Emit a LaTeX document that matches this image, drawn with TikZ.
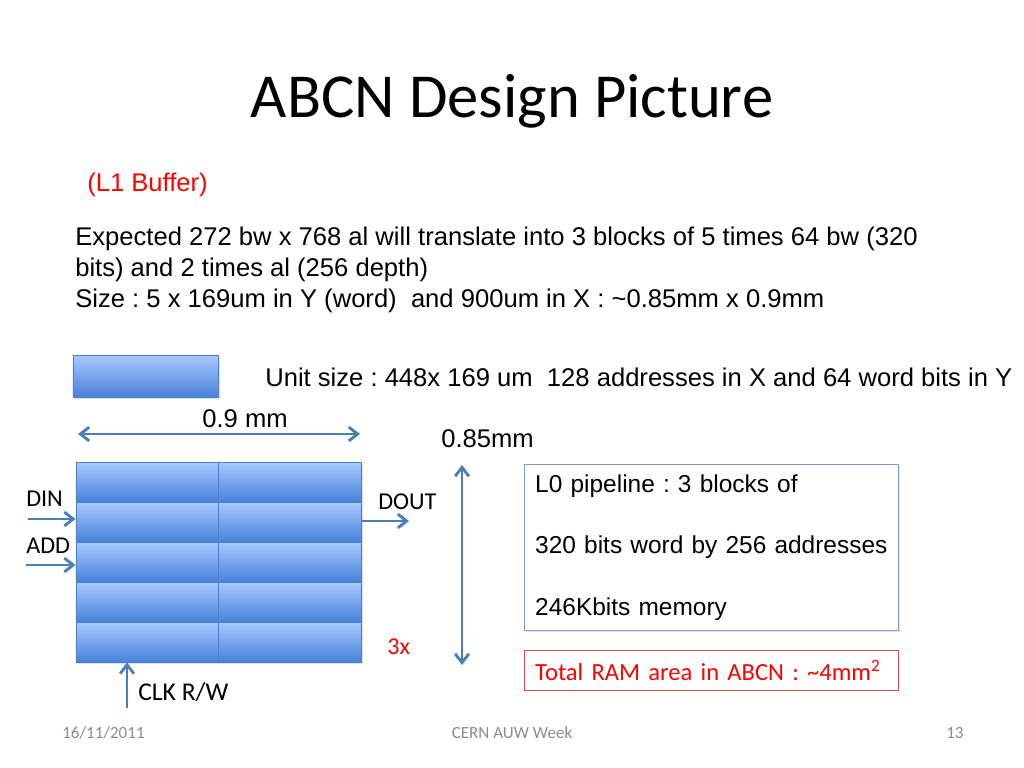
\documentclass[tikz,border=0pt]{standalone}
\usepackage{fontspec}
\setmainfont{Liberation Sans}
\newfontfamily\calibri{Carlito}
\usepackage{tikz}
\usetikzlibrary{arrows.meta,positioning,shadows}
\definecolor{cellTop}{HTML}{A8C8FF}
\definecolor{cellBot}{HTML}{4782DA}
\definecolor{cellLine}{HTML}{4F7FC4}
\definecolor{sigBlue}{HTML}{4A7EBB}
\definecolor{noteLine}{HTML}{7E9CC8}
\definecolor{alert}{HTML}{FF0000}
\definecolor{alertLine}{HTML}{E8484A}
\definecolor{footGray}{HTML}{8C8C8C}
\tikzset{
  cell/.style={draw=cellLine, line width=0.6pt, top color=cellTop, bottom color=cellBot,
               minimum width=100.2pt, minimum height=28.1pt, inner sep=0pt,
               drop shadow={opacity=0.25, shadow xshift=1.2pt, shadow yshift=-1.2pt}},
  sig/.style={-{Straight Barb[length=2.2mm,width=3.4mm]}, line width=2pt, draw=sigBlue},
  dim/.style={sig, {Straight Barb[length=2.2mm,width=3.4mm]}-{Straight Barb[length=2.2mm,width=3.4mm]}},
  body/.style={font=\fontsize{18}{21.6}\selectfont, inner sep=0pt, anchor=base west},
  sigtext/.style={font=\calibri\fontsize{17}{20}\selectfont, inner sep=0pt, anchor=base west},
  note/.style={draw=noteLine, line width=0.8pt, fill=white, anchor=north west, align=left,
               font=\fontsize{17.2}{21.6}\selectfont, inner xsep=7.5pt,
               drop shadow={opacity=0.2, shadow xshift=1pt, shadow yshift=-1pt}},
  total/.style={draw=alertLine, line width=0.8pt, anchor=north west, align=left, text=alert,
                font=\calibri\fontsize{17.3}{21.6}\selectfont, inner xsep=7.5pt},
  foottext/.style={font=\calibri\fontsize{12}{14}\selectfont, text=footGray, inner sep=0pt}
}
\frenchspacing
\hfuzz=50pt

\begin{document}
\begin{tikzpicture}[x=0.703125pt, y=-0.703125pt]
  \fill[white] (0,0) rectangle (1024,768);
  \useasboundingbox (0,0) rectangle (1024,768);
  \node[font=\calibri\fontsize{44}{52}\selectfont, anchor=base, inner sep=0pt] (title) at (512,118) {ABCN Design Picture};
  \node[body, text=alert] (l1buf) at (87,192) {(L1 Buffer)};
  \node[body, anchor=north west, align=left] (expect) at (75,227) {Expected 272 bw x 768 al will translate into 3 blocks of 5 times 64 bw (320\\bits) and 2 times al (256 depth)\\Size : 5 x 169um in Y (word)\ \ and 900um in X : \textasciitilde0.85mm x 0.9mm};
  \node[cell, minimum width=102pt, minimum height=29.5pt] (unit) at (145.5,376) {};
  \node[body] (unitsz) at (265,386) {Unit size : 448x 169 um\ \ 128 addresses in X and 64 word bits in Y};
  \foreach \r in {1,...,5}{
    \foreach \c/\xc in {1/147.25,2/289.75}{
      \node[cell] (c\r\c) at (\xc,{482+40*(\r-1)}) {};
    }
  }
  \node[body, anchor=base] (wlab) at (245,427) {0.9 mm};
  \coordinate (wl) at (78,434);
  \coordinate (wr) at (360,434);
  \draw[dim] (wl) -- (wr);
  \node[body] (hlab) at (441,447) {0.85mm};
  \coordinate (ht) at (462,465);
  \coordinate (hb) at (462,665);
  \draw[dim] (ht) -- (hb);
  \node[sigtext] (din) at (26,506) {DIN};
  \coordinate (dinS) at (28,519);
  \draw[sig] (dinS) -- (dinS -| c21.west);
  \node[sigtext] (add) at (26,553) {ADD};
  \coordinate (addS) at (26,565);
  \draw[sig] (addS) -- (addS -| c31.west);
  \node[sigtext] (dout) at (378,509) {DOUT};
  \coordinate (doutE) at (409,521);
  \draw[sig] (doutE -| c22.east) -- (doutE);
  \coordinate (clkS) at (127,708);
  \draw[sig] (clkS) -- (clkS |- c51.south);
  \node[sigtext, font=\calibri\fontsize{18}{21}\selectfont] (clk) at (138,700) {CLK R/W};
  \node[sigtext, text=alert] (times) at (387,654) {3x};
  \node[note, text width=248pt, minimum height=116.7pt] (l0) at (524,464) {\mbox{L0 pipeline : 3 blocks of}\\[21.6pt]\mbox{320 bits word by 256 addresses}\\[21.6pt]\mbox{246Kbits memory}};
  \node[total, text width=248pt, minimum height=28.1pt] (ram) at (524,650) {\mbox{Total RAM area in ABCN : \textasciitilde4mm\textsuperscript{2}}};
  \node[foottext, anchor=base west] (date) at (62,738) {16/11/2011};
  \node[foottext, anchor=base] (event) at (512,738) {CERN AUW Week};
  \node[foottext, anchor=base west] (page) at (946,738) {13};
\end{tikzpicture}
\end{document}
